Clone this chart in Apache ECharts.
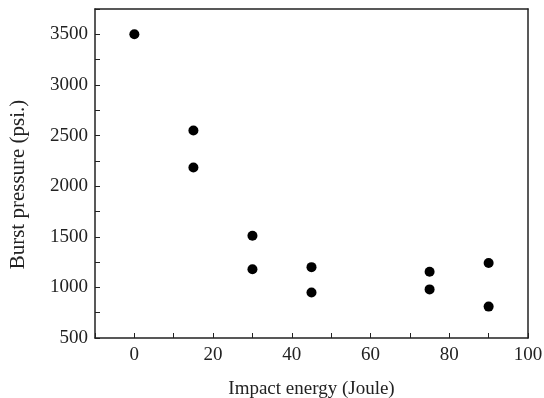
<!DOCTYPE html>
<html>
<head>
<meta charset="utf-8">
<script src="https://cdn.jsdelivr.net/npm/echarts@6/dist/echarts.min.js"></script>
<style>
  html, body { margin: 0; padding: 0; background: #fff; }
  #chart { width: 544px; height: 398px; }
</style>
</head>
<body>
<div id="chart"></div>
<script>
// impact energy (J) vs burst pressure (psi)
const energy = [0, 15, 15, 30, 30, 45, 45, 75, 75, 90, 90];
const pressure = [3500, 2550, 2185, 1510, 1180, 1200, 950, 1155, 980, 1240, 810];

const chart = echarts.init(document.getElementById('chart'));
const font = 'Liberation Serif';
const axisColor = '#222';

const frameLine = { show: true, onZero: false, lineStyle: { color: axisColor, width: 1.5 } };

chart.setOption({
  animation: false,
  grid: { left: 95, right: 16, top: 9, bottom: 60, outerBoundsMode: 'none' },
  xAxis: [{
    type: 'value',
    min: -10,
    max: 100,
    interval: 10,
    name: 'Impact energy (Joule)',
    nameLocation: 'middle',
    nameGap: 42,
    nameTextStyle: { fontFamily: font, fontSize: 19, color: '#222' },
    axisLine: frameLine,
    axisTick: { show: true, inside: true, length: 5, lineStyle: { color: axisColor } },
    axisLabel: {
      fontFamily: font, fontSize: 19, color: '#222', margin: 8,
      formatter: v => (v % 20 === 0 ? String(v) : '')
    },
    splitLine: { show: false }
  }, {
    // top edge of the box
    type: 'value', position: 'top', min: -10, max: 100,
    axisLine: frameLine,
    axisTick: { show: false }, axisLabel: { show: false }, splitLine: { show: false }
  }],
  yAxis: [{
    type: 'value',
    min: 500,
    max: 3750,
    interval: 250,
    name: 'Burst pressure (psi.)',
    nameLocation: 'middle',
    nameGap: 66,
    nameTextStyle: { fontFamily: font, fontSize: 21, color: '#222', padding: [0, 22, 0, 0] },
    axisLine: frameLine,
    axisTick: { show: true, inside: true, length: 5, lineStyle: { color: axisColor } },
    axisLabel: {
      fontFamily: font, fontSize: 19, color: '#222', margin: 7,
      formatter: v => (v % 500 === 0 ? String(v) : '')
    },
    splitLine: { show: false }
  }, {
    // right edge of the box
    type: 'value', position: 'right', min: 500, max: 3750,
    axisLine: frameLine,
    axisTick: { show: false }, axisLabel: { show: false }, splitLine: { show: false }
  }],
  series: [{
    type: 'scatter',
    symbolSize: 10,
    itemStyle: { color: '#000', opacity: 1 },
    data: energy.map((e, i) => [e, pressure[i]])
  }]
});
</script>
</body>
</html>
